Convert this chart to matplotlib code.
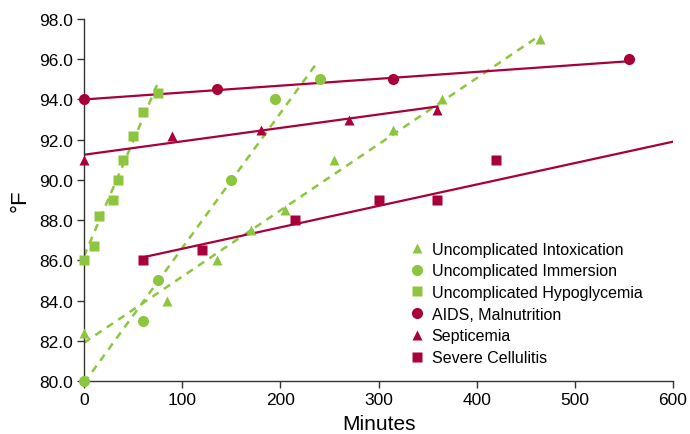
import numpy as np
import matplotlib.pyplot as plt

green = '#8cc63f'
crimson = '#a8003a'

# raw readings (minutes, deg F)
intox_min = [0, 85, 135, 170, 205, 255, 315, 365, 465]
intox_temp = [82.4, 84.0, 86.0, 87.5, 88.5, 91.0, 92.5, 94.0, 97.0]

immersion_min = [0, 60, 75, 150, 195, 240]
immersion_temp = [80.0, 83.0, 85.0, 90.0, 94.0, 95.0]

hypo_min = [0, 10, 15, 30, 35, 40, 50, 60, 75]
hypo_temp = [86.0, 86.7, 88.2, 89.0, 90.0, 91.0, 92.2, 93.4, 94.3]

aids_min = [0, 135, 315, 555]
aids_temp = [94.0, 94.5, 95.0, 96.0]

septic_min = [0, 90, 180, 270, 360]
septic_temp = [91.0, 92.2, 92.5, 93.0, 93.5]

cell_min = [60, 120, 215, 300, 360, 420]
cell_temp = [86.0, 86.5, 88.0, 89.0, 89.0, 91.0]

# trend lines as drawn in the figure (start/end)
intox_fit = ([0, 465], [81.9, 97.2])
immersion_fit = ([0, 237], [79.9, 95.8])
hypo_fit = ([0, 76], [86.2, 94.9])
aids_fit = ([0, 555], [94.0, 95.9])
septic_fit = ([0, 360], [91.25, 93.65])
cell_fit = ([60, 600], [86.15, 91.9])

labels = ['Uncomplicated Intoxication', 'Uncomplicated Immersion',
          'Uncomplicated Hypoglycemia', 'AIDS, Malnutrition',
          'Septicemia', 'Severe Cellulitis']

plt.rcParams['font.family'] = ['Liberation Sans', 'DejaVu Sans']

fig = plt.figure(figsize=(6.9, 4.35), dpi=100)
ax = fig.add_axes([84/690, 1-382/435, 589/690, 362/435])

series = [
    (intox_min, intox_temp, intox_fit, green, '^', 7.5, '--'),
    (immersion_min, immersion_temp, immersion_fit, green, 'o', 8, '--'),
    (hypo_min, hypo_temp, hypo_fit, green, 's', 7, '--'),
    (aids_min, aids_temp, aids_fit, crimson, 'o', 8, '-'),
    (septic_min, septic_temp, septic_fit, crimson, '^', 7.5, '-'),
    (cell_min, cell_temp, cell_fit, crimson, 's', 7, '-'),
]

for xs, ys, fit, col, mk, ms, ls in series:
    if ls == '--':
        ax.plot(fit[0], fit[1], color=col, lw=1.8, ls=(0, (3, 2.5)), zorder=2)
    else:
        ax.plot(fit[0], fit[1], color=col, lw=1.6, zorder=2)

for (xs, ys, fit, col, mk, ms, ls), lab in zip(series, labels):
    ax.plot(xs, ys, ls='none', marker=mk, ms=ms, color=col, mec='none',
            label=lab, clip_on=False, zorder=3)

ax.set_xlim(0, 600)
ax.set_ylim(80, 98)
ax.set_xticks(range(0, 601, 100))
ax.set_yticks(np.arange(80, 98.1, 2))
ax.set_yticklabels([f'{v:.1f}' for v in np.arange(80, 98.1, 2)])
ax.tick_params(labelsize=12.5, direction='out', length=5, width=1, color='#333333', pad=3)
for s in ['top', 'right']:
    ax.spines[s].set_visible(False)
for s in ['left', 'bottom']:
    ax.spines[s].set_color('#333333')
    ax.spines[s].set_linewidth(1)

ax.set_xlabel('Minutes', fontsize=15, labelpad=5)
ax.set_ylabel('°F', fontsize=16, labelpad=6)

ax.legend(loc='upper left', bbox_to_anchor=(0.555, 0.385), frameon=False,
          fontsize=11.5, handlelength=0.8, handletextpad=0.5,
          labelspacing=0.42, borderpad=0, borderaxespad=0)

plt.savefig('out.png', dpi=100)
